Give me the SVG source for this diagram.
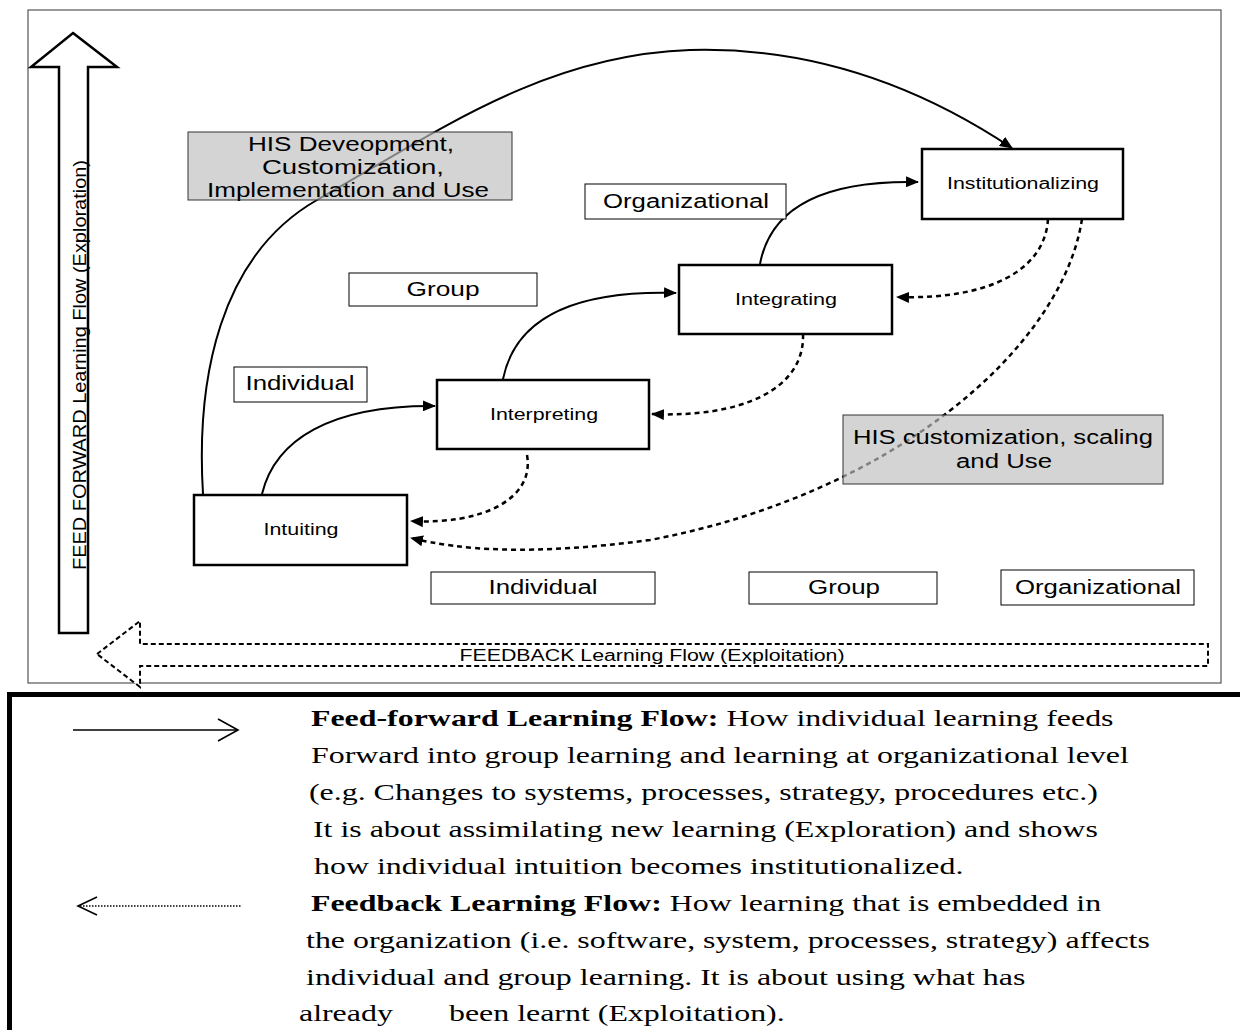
<svg xmlns="http://www.w3.org/2000/svg" width="1240" height="1030" viewBox="0 0 1240 1030">
<style>
.node rect{fill:#fff;stroke:#000;stroke-width:2.5}
.node text{font-family:"Liberation Sans",Arial,sans-serif;font-size:16px;fill:#000;text-anchor:middle}
.lab rect{fill:#fff;stroke:#000;stroke-width:1}
.lab text{font-family:"Liberation Sans",Arial,sans-serif;font-size:19.5px;fill:#000;text-anchor:middle}
.grey rect{fill:#bfbfbf;fill-opacity:0.67;stroke:#333;stroke-width:1}
.grey text{font-family:"Liberation Sans",Arial,sans-serif;font-size:20px;fill:#000;text-anchor:middle}
.ff{fill:none;stroke:#000;stroke-width:2;marker-end:url(#ah)}
.fb{fill:none;stroke:#000;stroke-width:2.5;stroke-dasharray:5 4;marker-end:url(#ah)}
.leg{font-family:"Liberation Serif","Times New Roman",serif;font-size:24px;fill:#000}
</style>
<defs>
<marker id="ah" markerUnits="userSpaceOnUse" markerWidth="14" markerHeight="11" refX="12" refY="5.5" orient="auto">
<path d="M0,0 L13,5.5 L0,11 Z" fill="#000"/>
</marker>
</defs>
<rect x="0" y="0" width="1240" height="1030" fill="#fff"/>
<rect id="frame" x="28" y="10" width="1193" height="673" fill="none" stroke="#555" stroke-width="1.2"/>

<g id="feedforward-arrow">
<polygon points="73,33 117,67 88,67 88,633 59,633 59,67 31,67" fill="#fff" stroke="#000" stroke-width="2.5"/>
<text transform="translate(86,365) rotate(-90)" font-family="Liberation Sans, Arial, sans-serif" font-size="19" text-anchor="middle" textLength="410" lengthAdjust="spacingAndGlyphs">FEED FORWARD Learning Flow (Exploration)</text>
</g>

<g id="feedback-arrow">
<polygon points="97,654 140,621 140,644 1208,644 1208,666 140,666 140,687" fill="#fff" stroke="#000" stroke-width="2" stroke-dasharray="5 3"/>
<text x="652" y="661" font-family="Liberation Sans, Arial, sans-serif" font-size="16" text-anchor="middle" textLength="385" lengthAdjust="spacingAndGlyphs">FEEDBACK Learning Flow (Exploitation)</text>
</g>

<g id="connectors">
<path class="ff" d="M262,494 C275,440 330,405 435,406"/>
<path class="ff" d="M503,379 C515,320 570,290 676,293"/>
<path class="ff" d="M760,264 C770,210 820,180 918,182"/>
<path class="ff" d="M203,494 C196,380 219,256 317,200 C440,130 545,55 690,50 C830,46 940,100 1012,148"/>
<path class="fb" d="M527,455 C535,500 480,525 411,521"/>
<path class="fb" d="M803,334 C805,390 740,418 652,414"/>
<path class="fb" d="M1048,219 C1045,270 990,300 897,297"/>
<path class="fb" d="M1082,219 C1062,350 890,495 650,540 C530,556 460,550 411,538"/>
</g>

<g id="grey-dev" class="grey">
<rect x="188" y="132" width="324" height="68"/>
<text x="351" y="151" textLength="206" lengthAdjust="spacingAndGlyphs">HIS Deveopment,</text>
<text x="353" y="174" textLength="182" lengthAdjust="spacingAndGlyphs">Customization,</text>
<text x="348" y="197" textLength="282" lengthAdjust="spacingAndGlyphs">Implementation and Use</text>
</g>
<g id="grey-scale" class="grey">
<rect x="843" y="415" width="320" height="69"/>
<text x="1003" y="444" textLength="300" lengthAdjust="spacingAndGlyphs">HIS customization, scaling</text>
<text x="1004" y="468" textLength="96" lengthAdjust="spacingAndGlyphs">and Use</text>
</g>

<g id="lab-org-top" class="lab"><rect x="585" y="184" width="201" height="35"/><text x="686" y="208" textLength="166" lengthAdjust="spacingAndGlyphs">Organizational</text></g>
<g id="lab-group-top" class="lab"><rect x="349" y="273" width="188" height="33"/><text x="443" y="296" textLength="73" lengthAdjust="spacingAndGlyphs">Group</text></g>
<g id="lab-ind-top" class="lab"><rect x="234" y="367" width="133" height="35"/><text x="300" y="390" textLength="109" lengthAdjust="spacingAndGlyphs">Individual</text></g>
<g id="lab-ind-bot" class="lab"><rect x="431" y="572" width="224" height="32"/><text x="543" y="594" textLength="109" lengthAdjust="spacingAndGlyphs">Individual</text></g>
<g id="lab-group-bot" class="lab"><rect x="749" y="572" width="188" height="32"/><text x="844" y="594" textLength="72" lengthAdjust="spacingAndGlyphs">Group</text></g>
<g id="lab-org-bot" class="lab"><rect x="1001" y="570" width="193" height="35"/><text x="1098" y="594" textLength="166" lengthAdjust="spacingAndGlyphs">Organizational</text></g>

<g id="intuiting" class="node"><rect x="194" y="495" width="213" height="70"/><text x="301" y="535" textLength="75" lengthAdjust="spacingAndGlyphs">Intuiting</text></g>
<g id="interpreting" class="node"><rect x="437" y="380" width="212" height="69"/><text x="544" y="420" textLength="108" lengthAdjust="spacingAndGlyphs">Interpreting</text></g>
<g id="integrating" class="node"><rect x="679" y="265" width="213" height="69"/><text x="786" y="305" textLength="102" lengthAdjust="spacingAndGlyphs">Integrating</text></g>
<g id="institutionalizing" class="node"><rect x="922" y="149" width="201" height="70"/><text x="1023" y="189" textLength="152" lengthAdjust="spacingAndGlyphs">Institutionalizing</text></g>

<g id="legend">
<rect x="9.5" y="694.5" width="1240" height="400" fill="none" stroke="#000" stroke-width="5"/>
<line x1="73" y1="730" x2="237" y2="730" stroke="#000" stroke-width="1.6"/>
<polyline points="218,719 238,730 218,741" fill="none" stroke="#000" stroke-width="1.6"/>
<line x1="80" y1="906" x2="242" y2="906" stroke="#000" stroke-width="1.6" stroke-dasharray="1.5 1.5"/>
<polyline points="97,897 78,906 97,915" fill="none" stroke="#000" stroke-width="1.6"/>
<g transform="scale(1.33,1)">
<text class="leg" x="233.8" y="726"><tspan font-weight="bold">Feed-forward Learning Flow:</tspan> How individual learning feeds</text>
<text class="leg" x="233.8" y="763">Forward into group learning and learning at organizational level</text>
<text class="leg" x="232.3" y="800">(e.g. Changes to systems, processes, strategy, procedures etc.)</text>
<text class="leg" x="235.3" y="837">It is about assimilating new learning (Exploration) and shows</text>
<text class="leg" x="236.1" y="874">how individual intuition becomes institutionalized.</text>
<text class="leg" x="233.8" y="911"><tspan font-weight="bold">Feedback Learning Flow:</tspan> How learning that is embedded in</text>
<text class="leg" x="230.1" y="948">the organization (i.e. software, system, processes, strategy) affects</text>
<text class="leg" x="230.1" y="985">individual and group learning. It is about using what has</text>
<text class="leg" y="1021"><tspan x="224.8">already</tspan><tspan x="337.6">been learnt (Exploitation).</tspan></text>
</g>
</g>
</svg>
